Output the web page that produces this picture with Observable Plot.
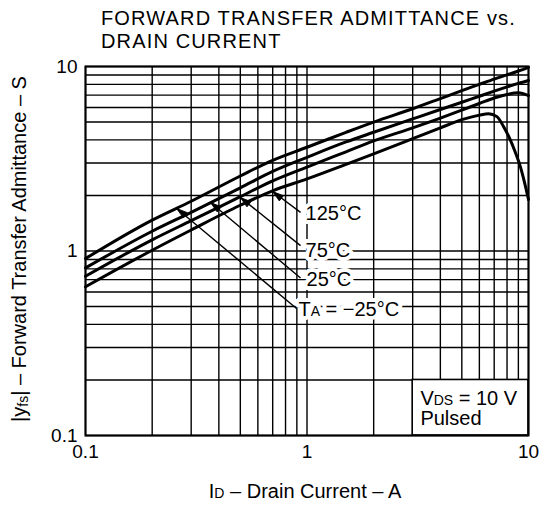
<!DOCTYPE html>
<html><head><meta charset="utf-8">
<script src="https://cdn.jsdelivr.net/npm/d3@7"></script>
<script src="https://cdn.jsdelivr.net/npm/@observablehq/plot@0.6"></script>
<style>
html,body{margin:0;padding:0;background:#fff;}
#wrap{position:relative;width:544px;height:506px;overflow:hidden;background:#fff;font-family:"Liberation Sans",Arial,Helvetica,sans-serif;color:#000;}
.title{position:absolute;left:101px;font-size:20px;line-height:20px;height:20px;letter-spacing:1.15px;white-space:nowrap;}
#t1{top:8px;}
#t2{top:31px;}
#chart{position:absolute;left:0;top:0;}
.lab{position:absolute;white-space:nowrap;font-size:20px;line-height:20px;}
#ylab{left:20px;top:249px;transform:translate(-50%,-50%) rotate(-90deg);}
#xlab{left:305px;top:492px;transform:translate(-50%,-50%);}
.sm{font-size:0.7em;}
.sub{position:relative;top:0.15em;}
</style></head>
<body>
<div id="wrap">
<div id="chart"></div>
<div id="t1" class="title">FORWARD TRANSFER ADMITTANCE vs.</div>
<div id="t2" class="title">DRAIN CURRENT</div>
<div id="ylab" class="lab">|y<span class="sm sub">fs</span>| – Forward Transfer Admittance – S</div>
<div id="xlab" class="lab">I<span class="sm">D</span> – Drain Current – A</div>
</div>
<script>
// ---- data ----
const currentA = [0.1, 0.2, 0.3, 0.5, 0.7, 1, 1.5, 2, 3, 4, 5, 6, 7, 8, 9, 10];
const yfsMinus25 = [0.91, 1.47, 1.86, 2.55, 3.1, 3.65, 4.4, 5.0, 5.9, 6.7, 7.4, 8.0, 8.55, 9.0, 9.45, 9.9];
const yfs25 = [0.81, 1.28, 1.62, 2.2, 2.7, 3.22, 3.9, 4.4, 5.2, 5.85, 6.4, 6.9, 7.35, 7.75, 8.1, 8.4];
const yfs75 = [0.73, 1.15, 1.46, 1.97, 2.4, 2.85, 3.45, 3.95, 4.65, 5.25, 5.8, 6.3, 6.75, 7.05, 7.2, 6.95];
const currentA125 = [0.1, 0.2, 0.3, 0.5, 0.7, 1, 1.5, 2, 3, 4, 5, 6, 6.6, 7.2, 7.7, 8.2, 8.7, 9.2, 9.6, 10];
const yfs125 = [0.64, 1.01, 1.30, 1.77, 2.12, 2.46, 2.95, 3.36, 4.06, 4.65, 5.15, 5.45, 5.55, 5.35, 4.75, 4.1, 3.45, 2.85, 2.35, 1.9];

const gridCurrent = [0.1, 0.2, 0.3, 0.4, 0.5, 0.6, 0.7, 0.8, 0.9, 1, 2, 3, 4, 5, 6, 7, 8, 9, 10];
const gridYfs = [0.1, 0.2, 0.3, 0.4, 0.5, 0.6, 0.7, 0.8, 0.9, 1, 2, 3, 4, 5, 6, 7, 8, 9, 10];
const tickCurrent = [0.1, 1, 10];
const tickYfs = [0.1, 1, 10];

const tempLabels = ["125°C", "75°C", "25°C", "T_{A} = −25°C"];
const labelCurrent = [0.985, 0.985, 0.995, 0.915];
const labelYfs = [1.6, 1.0, 0.70, 0.482];
const arrowTailCurrent = [0.935, 0.935, 0.935, 0.897];
const arrowTailYfs = [1.62, 1.07, 0.714, 0.488];
const arrowTipCurrent = [0.70, 0.50, 0.367, 0.258];
const arrowTipYfs = [2.10, 1.95, 1.83, 1.70];

const noteBoxCurrent = [3, 10];
const noteBoxYfs = [0.1, 0.2];
const noteLines = ["V_{DS} = 10 V", "Pulsed"];
const noteCurrent = [3.25, 3.25];
const noteYfs = [0.1587, 0.1237];

// ---- tables ----
const series = [
  ["-25", currentA, yfsMinus25],
  ["25", currentA, yfs25],
  ["75", currentA, yfs75],
  ["125", currentA125, yfs125]
];
const curveRows = series.flatMap(([k, xs, ys]) => xs.map((x, i) => ({k, x, y: ys[i]})));
const labelRows = tempLabels.map((t, i) => ({t, x: labelCurrent[i], y: labelYfs[i]}));
const arrowRows = tempLabels.map((t, i) => ({x1: arrowTailCurrent[i], y1: arrowTailYfs[i], x2: arrowTipCurrent[i], y2: arrowTipYfs[i]}));
const noteRows = noteLines.map((t, i) => ({t, x: noteCurrent[i], y: noteYfs[i]}));
const boxRows = [{x1: noteBoxCurrent[0], x2: noteBoxCurrent[1], y1: noteBoxYfs[0], y2: noteBoxYfs[1]}];

// narrow arrowhead symbol with its tip at the origin, pointing up
const arrowHead = {
  draw(context) {
    context.moveTo(0, 0);
    context.lineTo(-3.3, 11);
    context.lineTo(3.3, 11);
    context.closePath();
  }
};

const font = "Liberation Sans, Arial, Helvetica, sans-serif";
const svg = Plot.plot({
  width: 544, height: 470,
  marginLeft: 85, marginRight: 16, marginTop: 66, marginBottom: 35,
  style: {fontFamily: font, fontSize: "19px", color: "black", background: "white", overflow: "visible"},
  x: {type: "log", domain: [0.1, 10], ticks: tickCurrent, tickFormat: d => String(d), tickSize: 0, tickPadding: 9, label: null},
  y: {type: "log", domain: [0.1, 10], ticks: tickYfs, tickFormat: d => String(d), tickSize: 0, tickPadding: 8, label: null},
  marks: [
    Plot.ruleX(gridCurrent, {stroke: "black", strokeWidth: 1.4}),
    Plot.ruleY(gridYfs, {stroke: "black", strokeWidth: 1.4}),
    Plot.rect(boxRows, {x1: "x1", x2: "x2", y1: "y1", y2: "y2", fill: "white", stroke: "black", strokeWidth: 1.6}),
    Plot.line(curveRows, {x: "x", y: "y", z: "k", stroke: "black", strokeWidth: 3, curve: "monotone-x"}),
    Plot.link(arrowRows, {x1: "x1", y1: "y1", x2: "x2", y2: "y2", stroke: "black", strokeWidth: 1.4}),
    Plot.dot(arrowRows, {x: "x2", y: "y2", symbol: arrowHead, r: 4, fill: "black", stroke: "black", strokeWidth: 0.8, rotate: -52}),
    Plot.text(labelRows, {x: "x", y: "y", text: "t", textAnchor: "start", fontSize: 20, fill: "white", stroke: "white", strokeWidth: 8}),
    Plot.text(labelRows, {x: "x", y: "y", text: "t", textAnchor: "start", fontSize: 20, fill: "black"}),
    Plot.text(noteRows, {x: "x", y: "y", text: "t", textAnchor: "start", fontSize: 20, fill: "black"}),
    Plot.frame({stroke: "black", strokeWidth: 2})
  ]
});

// subscripts written as _{..}
svg.querySelectorAll("text").forEach(t => {
  const s = t.textContent;
  if (!s.includes("_{")) return;
  while (t.firstChild) t.removeChild(t.firstChild);
  const mk = (str, small) => {
    const ts = document.createElementNS("http://www.w3.org/2000/svg", "tspan");
    ts.textContent = str;
    if (small) ts.setAttribute("font-size", "0.7em");
    return ts;
  };
  const re = /_\{([^}]*)\}/g; let last = 0, m;
  while ((m = re.exec(s))) {
    if (m.index > last) t.appendChild(mk(s.slice(last, m.index), false));
    t.appendChild(mk(m[1], true));
    last = re.lastIndex;
  }
  if (last < s.length) t.appendChild(mk(s.slice(last), false));
});

document.getElementById("chart").appendChild(svg);
</script>
</body></html>
